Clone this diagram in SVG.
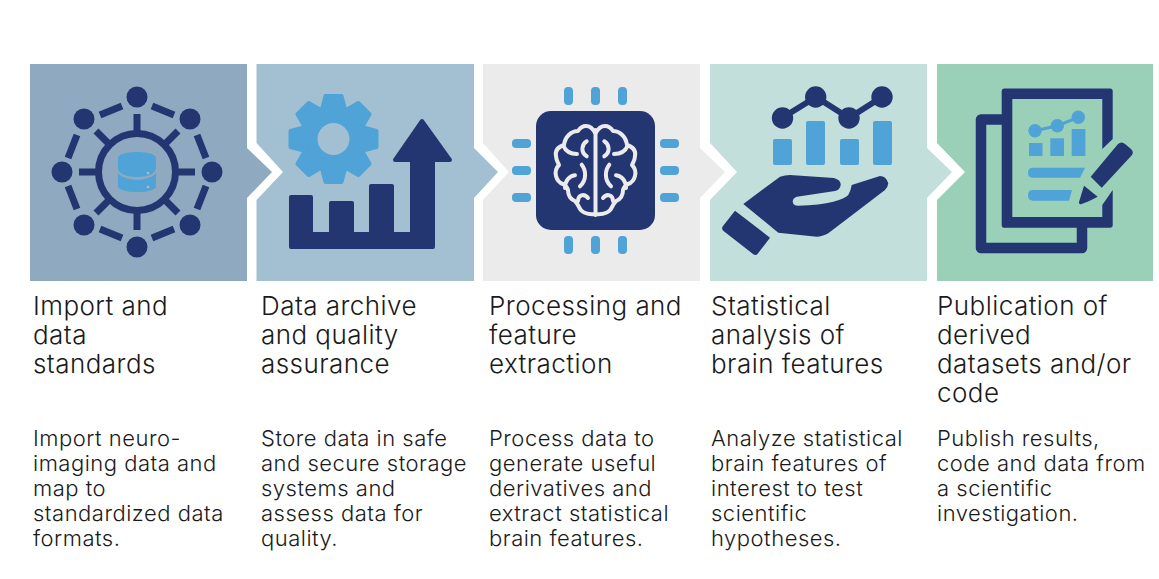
<svg xmlns="http://www.w3.org/2000/svg" width="1159" height="579" viewBox="0 0 1159 579">
<style>
.d{fill:#233672}.b{fill:#4fa3d6}
.ds{stroke:#233672;fill:none}
.t{font-family:Inter,Roboto,"Liberation Sans",sans-serif;fill:#1a1a1a;font-weight:300}
.h{font-size:26px;letter-spacing:.45px}.p{font-size:22px;letter-spacing:.5px}
</style>
<defs>
<path id="tooth" d="M-12 -28L-8 -43H8L12 -28Z" fill="#4fa3d6" stroke="#4fa3d6" stroke-width="4" stroke-linejoin="round"/>
<path id="brain" d="M595.500 133C592 128 590 126 586 126C582 126 580 128 578 131C571 131 565 137 564 145C558 147 555 151 556 156C556 160 558 163 559 165C556 168 555 172 556 176C557 180 560 183 563 184C565 185 567 187 568 190C568 195 570 199 575 201C577 203 578 205 579 207C581 212 587 215 595.500 214M586.700 141.300C582 144 580 152 586.700 156.300M581.700 164.700C586 170 587 180 580 186.300M575 175.300C569 176 565 181 565 188M563.500 146C566 152 570 154 577 154M578 201C578 195 584 193 588 198" fill="none" stroke="#ebebeb" stroke-width="4" stroke-linecap="round" stroke-linejoin="round"/>
</defs>
<rect width="1159" height="579" fill="#fff"/>
<g id="connectors"></g>
<g id="step1">
<polygon points="30,64 247,64 247,148 272,172 247,198 247,281 30,281" fill="#8fa9c0"/>
<circle cx="137" cy="172" r="38.500" class="ds" stroke-width="7"/>
<g class="ds" stroke-width="7">
<path d="M137 114V134M137 210V230M79 172H99M175 172H195M96 131L111 146M178 131L163 146M96 213L111 198M178 213L163 198"/>
<path d="M100 115L122 106M152 106L174 115M197 135L206 158M206 186L197 209M174 229L152 238M122 238L100 229M77 209L68 186M68 158L77 135"/>
</g>
<g class="d"><circle cx="137" cy="97" r="10.500"/><circle cx="190" cy="119" r="10.500"/><circle cx="212" cy="172" r="10.500"/><circle cx="190" cy="225" r="10.500"/><circle cx="137" cy="247" r="10.500"/><circle cx="84" cy="225" r="10.500"/><circle cx="62" cy="172" r="10.500"/><circle cx="84" cy="119" r="10.500"/></g>
<path class="b" d="M118 158c0-8 38-8 38 0v10c0 12-38 12-38 0zM118 173c6 9 32 9 38 0v13c0 8-38 8-38 0z"/>
<circle cx="148" cy="173" r="1.300" fill="#a3c0d2"/><circle cx="148" cy="187" r="1.300" fill="#a3c0d2"/>
<text class="t h" x="33" y="315">Import and</text><text class="t h" x="33" y="344">data</text><text class="t h" x="33" y="373">standards</text>
<text class="t p" x="33" y="446">Import neuro-</text><text class="t p" x="33" y="471">imaging data and</text><text class="t p" x="33" y="496">map to</text><text class="t p" x="33" y="521">standardized data</text><text class="t p" x="33" y="546">formats.</text>
</g>
<g id="step2">
<polygon points="256.500,64 474,64 474,148 498,172 474,198 474,281 256.500,281 256.500,200 283,172 256.500,143" fill="#a3c0d2"/>
<circle class="b" cx="333.500" cy="139" r="33"/>
<use href="#tooth" transform="translate(333.500 139)"/><use href="#tooth" transform="translate(333.500 139) rotate(45)"/><use href="#tooth" transform="translate(333.500 139) rotate(90)"/><use href="#tooth" transform="translate(333.500 139) rotate(135)"/><use href="#tooth" transform="translate(333.500 139) rotate(180)"/><use href="#tooth" transform="translate(333.500 139) rotate(225)"/><use href="#tooth" transform="translate(333.500 139) rotate(270)"/><use href="#tooth" transform="translate(333.500 139) rotate(315)"/>
<circle cx="333.500" cy="139" r="16" fill="#a3c0d2"/>
<path class="d" stroke="#233672" stroke-width="4" stroke-linejoin="round" d="M291 197H311V234H331V203H352V234H371V186H392V234H412V160H395L422 121L450 160H433V247H291Z"/>
<text class="t h" x="261" y="315">Data archive</text><text class="t h" x="261" y="344">and quality</text><text class="t h" x="261" y="373">assurance</text>
<text class="t p" x="261" y="446">Store data in safe</text><text class="t p" x="261" y="471">and secure storage</text><text class="t p" x="261" y="496">systems and</text><text class="t p" x="261" y="521">assess data for</text><text class="t p" x="261" y="546">quality.</text>
</g>
<g id="step3">
<polygon points="483,64 700,64 700,148 725,172 700,198 700,281 483,281 483,200 509,172 483,143" fill="#ebebeb"/>
<rect x="536" y="111" width="119" height="119" rx="15" class="d"/>
<g class="b">
<rect x="564" y="87" width="9" height="18" rx="4"/><rect x="591" y="87" width="9" height="18" rx="4"/><rect x="618" y="87" width="9" height="18" rx="4"/>
<rect x="564" y="236" width="9" height="18" rx="4"/><rect x="591" y="236" width="9" height="18" rx="4"/><rect x="618" y="236" width="9" height="18" rx="4"/>
<rect x="512" y="139" width="19" height="9" rx="4"/><rect x="512" y="166" width="19" height="9" rx="4"/><rect x="512" y="193" width="19" height="9" rx="4"/>
<rect x="660" y="139" width="19" height="9" rx="4"/><rect x="660" y="166" width="19" height="9" rx="4"/><rect x="660" y="193" width="19" height="9" rx="4"/>
</g>
<path d="M595.500 130V215" stroke="#ebebeb" stroke-width="4" stroke-linecap="round"/>
<use href="#brain"/><use href="#brain" transform="translate(1191 0) scale(-1 1)"/>
<text class="t h" x="489" y="315">Processing and</text><text class="t h" x="489" y="344">feature</text><text class="t h" x="489" y="373">extraction</text>
<text class="t p" x="489" y="446">Process data to</text><text class="t p" x="489" y="471">generate useful</text><text class="t p" x="489" y="496">derivatives and</text><text class="t p" x="489" y="521">extract statistical</text><text class="t p" x="489" y="546">brain features.</text>
</g>
<g id="step4">
<polygon points="710,64 927,64 927,148 952,172 927,198 927,281 710,281 710,200 737,172 710,143" fill="#c3dfdc"/>
<g class="b"><rect x="773" y="139" width="19" height="26" rx="2"/><rect x="806" y="121" width="19" height="44" rx="2"/><rect x="840" y="139" width="19" height="26" rx="2"/><rect x="873" y="121" width="19" height="44" rx="2"/></g>
<path d="M782 118L816 97L849 118L882 97" class="ds" stroke-width="6"/>
<g class="d"><circle cx="782.500" cy="118" r="10.700"/><circle cx="815.700" cy="97" r="10.700"/><circle cx="849" cy="118" r="10.700"/><circle cx="882" cy="97" r="10.700"/></g>
<path class="d" d="M743.300 204L780 176.700Q785 175 790 175L834 178Q841 180 840.700 185Q840 190 835 191L797 196.700Q792.700 198 792.700 201.700Q793 205.700 798.300 205.700Q820 205 833.300 201.700Q846 198 848.300 195Q851 190 851.700 185L880 176Q886 176 888.300 183.300Q888 187 885 190L828.300 233.300Q822 236.700 816.700 236.700L778.300 232.700Z"/>
<path class="d" d="M735 210.700L770 237.700L757.500 254Q755.500 256 753 254L723.500 231Q721 228.500 723 226Z"/>
<text class="t h" x="711" y="315">Statistical</text><text class="t h" x="711" y="344">analysis of</text><text class="t h" x="711" y="373">brain features</text>
<text class="t p" x="711" y="446">Analyze statistical</text><text class="t p" x="711" y="471">brain features of</text><text class="t p" x="711" y="496">interest to test</text><text class="t p" x="711" y="521">scientific</text><text class="t p" x="711" y="546">hypotheses.</text>
</g>
<g id="step5">
<polygon points="937,64 1153,64 1153,281 937,281 937,200 965,172 937,143" fill="#9acfb8"/>
<path class="ds" stroke-width="10.500" stroke-linejoin="round" d="M1002 119.500H981V248H1082V227"/>
<path class="d" d="M1004 88.500H1110Q1112.700 88.500 1112.700 91V139L1102.300 149V99H1012.300V217H1102.300V205L1112.700 190V225Q1112.700 227.700 1110 227.700H1004Q1001.700 227.700 1001.700 225V91Q1001.700 88.500 1004 88.500Z"/>
<g class="b">
<rect x="1029" y="143" width="13.500" height="13"/><rect x="1050.300" y="138.300" width="13.700" height="17.700"/><rect x="1071.700" y="129" width="13.700" height="27"/>
<path d="M1033 167.700H1085L1080 177.700H1033Q1028 177.700 1028 172.700Q1028 167.700 1033 167.700ZM1033 190H1072L1069 200.700H1033Q1028 200.700 1028 195.300Q1028 190 1033 190Z"/>
<circle cx="1035" cy="130.700" r="6.700"/><circle cx="1057.300" cy="125.700" r="6.700"/><circle cx="1078.300" cy="117.300" r="6.700"/>
<path d="M1035 130.700L1057.300 125.700L1078.300 117.300" fill="none" stroke="#4fa3d6" stroke-width="3"/>
</g>
<path class="d" d="M1090.700 176.700L1118 144Q1121.700 141 1125 144L1131 149Q1134 152 1132 155L1101.700 187.700Z"/>
<path class="d" d="M1084 185.700L1097.700 196.700Q1090 201 1081 204.300Q1078.500 204.500 1079 202Z"/>
<text class="t h" x="937" y="315">Publication of</text><text class="t h" x="937" y="344">derived</text><text class="t h" x="937" y="373">datasets and/or</text><text class="t h" x="937" y="402">code</text>
<text class="t p" x="937" y="446">Publish results,</text><text class="t p" x="937" y="471">code and data from</text><text class="t p" x="937" y="496">a scientific</text><text class="t p" x="937" y="521">investigation.</text>
</g>
</svg>
